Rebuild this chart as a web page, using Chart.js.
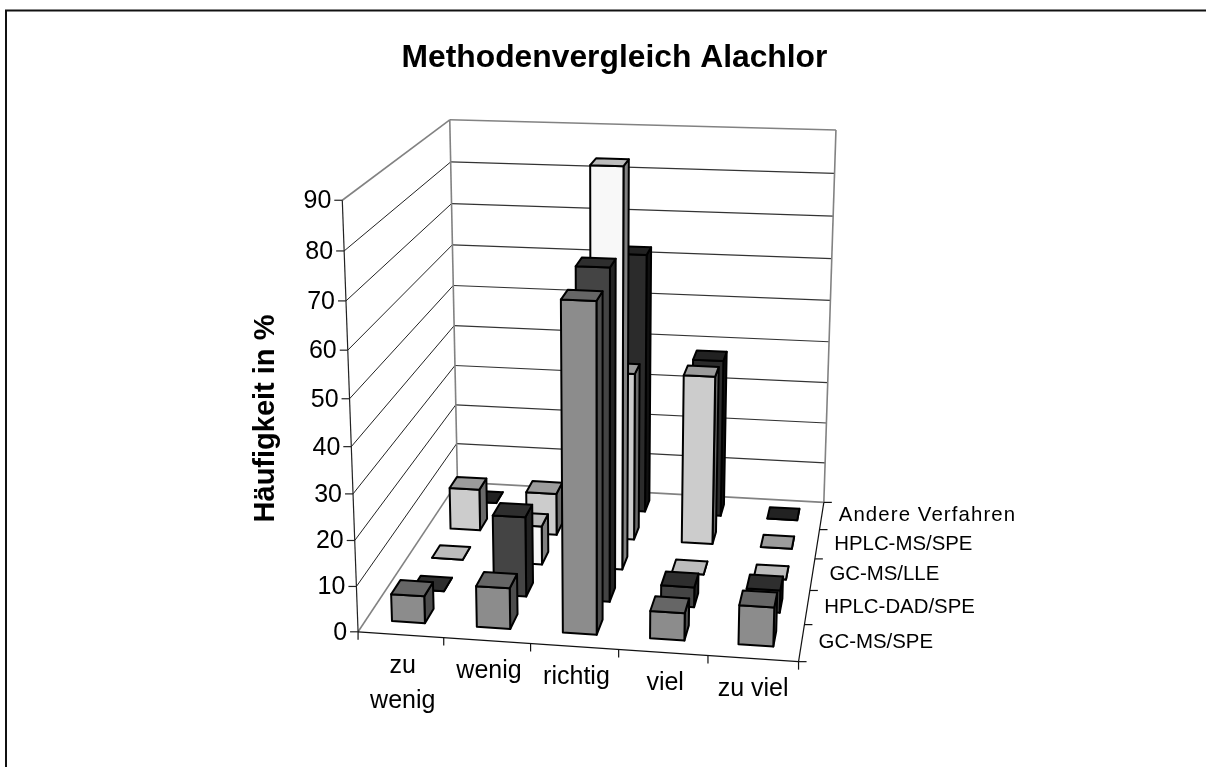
<!DOCTYPE html>
<html><head><meta charset="utf-8">
<style>html,body{margin:0;padding:0;background:#fff}canvas{display:block}</style>
<script src="https://cdn.jsdelivr.net/npm/chart.js@4"></script>
</head><body><canvas id="c" width="1206" height="767"></canvas>
<script>
const categories = ['zu wenig','wenig','richtig','viel','zu viel'];
const seriesNames = ['GC-MS/SPE','HPLC-DAD/SPE','GC-MS/LLE','HPLC-MS/SPE','Andere Verfahren'];
const gcMsSpe   = [6, 9, 70.3, 6, 8.5];
const hplcDad   = [0, 18, 72.8, 4.5, 5];
const gcMsLle   = [0, 9, 90, 0, 0];
const hplcMsSpe = [10, 10, 39.5, 39.7, 0];
const andere    = [0, 0, 62.4, 38, 0];
const yTicks = [0,10,20,30,40,50,60,70,80,90];
const seriesValues = [gcMsSpe, hplcDad, gcMsLle, hplcMsSpe, andere];
const font = 'Liberation Sans, Arial, sans-serif';
const faceColors = [
  {front:'#8c8c8c', top:'#666666', side:'#4d4d4d'},
  {front:'#444444', top:'#2e2e2e', side:'#222222'},
  {front:'#f8f8f8', top:'#bcbcbc', side:'#808080'},
  {front:'#cccccc', top:'#9c9c9c', side:'#6a6a6a'},
  {front:'#2b2b2b', top:'#222222', side:'#111111'}
];
const rowShift = [0.012,0,0,0,0];

// camera: view corners of the plot cube (u, v, w) -> page position
const cubeCorners = [
  [0,0,0,358.3,632],[1,0,0,798.3,661.7],[1,1,0,824,502.3],[0,1,0,457.3,482],
  [0,0,1,342.3,200],[0,1,1,449.7,120],[1,1,1,836,130]
];
function solveCamera(pts){
  const rows=[],rhs=[];
  for(const [u,v,w,x,y] of pts){
    rows.push([u,v,w,1,0,0,0,0,-x*u,-x*v,-x*w]);rhs.push(x);
    rows.push([0,0,0,0,u,v,w,1,-y*u,-y*v,-y*w]);rhs.push(y);
  }
  const n=11,M=[];
  for(let i=0;i<n;i++){const r=new Array(n+1).fill(0);
    for(let k=0;k<rows.length;k++){for(let j=0;j<n;j++)r[j]+=rows[k][i]*rows[k][j];r[n]+=rows[k][i]*rhs[k];}
    M.push(r);}
  for(let i=0;i<n;i++){let p=i;for(let k=i+1;k<n;k++)if(Math.abs(M[k][i])>Math.abs(M[p][i]))p=k;
    [M[i],M[p]]=[M[p],M[i]];
    for(let k=0;k<n;k++){if(k===i)continue;const f=M[k][i]/M[i][i];for(let j=i;j<=n;j++)M[k][j]-=f*M[i][j];}}
  return M.map((r,i)=>r[n]/r[i]);
}
const P=solveCamera(cubeCorners);
function proj(u,v,w){
  const d=P[8]*u+P[9]*v+P[10]*w+1;
  return [(P[0]*u+P[1]*v+P[2]*w+P[3])/d,(P[4]*u+P[5]*v+P[6]*w+P[7])/d];
}
function line(ctx,a,b,color,width){ctx.beginPath();ctx.moveTo(a[0],a[1]);ctx.lineTo(b[0],b[1]);ctx.strokeStyle=color;ctx.lineWidth=width;ctx.stroke();}
function poly(ctx,pts,fill){ctx.beginPath();pts.forEach((p,i)=>i?ctx.lineTo(p[0],p[1]):ctx.moveTo(p[0],p[1]));ctx.closePath();ctx.fillStyle=fill;ctx.fill();ctx.strokeStyle='#000';ctx.lineWidth=2;ctx.lineJoin='round';ctx.stroke();}

const cubePlugin={
  id:'cube',
  beforeDraw(chart){
    const c=chart.ctx;
    c.save();c.fillStyle='#fff';c.fillRect(0,0,1206,767);
    line(c,[6,767],[6,10.5],'#111',2);
    line(c,[5,10.5],[1206,10.5],'#111',2);
    c.restore();
  },
  afterDatasetsDraw(chart){
    const c=chart.ctx,{x:xs,y:ys,z:zs}=chart.scales;
    const U=px=>(px-xs.left)/xs.width, V=px=>(px-zs.left)/zs.width;
    const W=val=>(ys.bottom-ys.getPixelForValue(val))/ys.height;
    c.save();
    // walls
    const grey='#828282';
    yTicks.forEach(t=>{const w=W(t);
      if(t>0&&t<90){line(c,proj(0,0,w),proj(0,1,w),'#222',1);line(c,proj(0,1,w),proj(1,1,w),'#333',1.2);}
    });
    line(c,proj(0,0,1),proj(0,1,1),grey,1.6);
    line(c,proj(0,1,1),proj(1,1,1),grey,1.6);
    line(c,proj(1,1,0),proj(1,1,1),grey,1.6);
    line(c,proj(0,1,0),proj(0,1,1),grey,1.6);
    line(c,proj(0,0,0),proj(0,1,0),grey,1.6);
    line(c,proj(0,1,0),proj(1,1,0),grey,1.6);
    // axes
    line(c,proj(0,0,0),proj(0,0,1),'#222',1.2);
    line(c,proj(0,0,0),proj(1,0,0),'#111',1.2);
    line(c,proj(1,0,0),proj(1,1,0),'#111',1.2);
    yTicks.forEach(t=>{const p=proj(0,0,W(t));line(c,[p[0]-8,p[1]],p,'#222',1.2);});
    for(let i=0;i<=categories.length;i++){const p=proj(i/categories.length,0,0);line(c,p,[p[0],p[1]+8],'#111',1.2);}
    for(let i=0;i<=seriesNames.length;i++){const p=proj(1,i/seriesNames.length,0);line(c,p,[p[0]+8,p[1]],'#111',1.2);}
    // bars, back row first
    const catHalf=xs.width/categories.length*0.195, rowHalf=zs.width/seriesNames.length*0.21;
    for(let s=seriesValues.length-1;s>=0;s--){
      const col=faceColors[s];
      const zc=zs.getPixelForValue(s);
      categories.forEach((_,i)=>{
        const xc=xs.getPixelForValue(i),val=seriesValues[s][i],w=W(val);
        const u0=U(xc-catHalf),u1=U(xc+catHalf),v0=V(zc-rowHalf)+rowShift[s],v1=V(zc+rowHalf)+rowShift[s];
        const a=proj(u0,v0,0),b=proj(u1,v0,0),d=proj(u1,v1,0);
        const a2=proj(u0,v0,w),b2=proj(u1,v0,w),c2=proj(u0,v1,w),d2=proj(u1,v1,w);
        poly(c,[b,d,d2,b2],col.side);
        poly(c,[a,b,b2,a2],col.front);
        poly(c,[a2,b2,d2,c2],col.top);
      });
    }
    // text
    c.fillStyle='#000';c.textBaseline='middle';
    c.font='25px '+font;c.textAlign='right';
    yTicks.forEach(t=>{const p=proj(0,0,W(t));c.fillText(String(t),p[0]-11,p[1]+1);});
    c.font='25px '+font;c.textAlign='center';
    const labelLines=[['zu','wenig'],['wenig'],['richtig'],['viel'],['zu viel']];
    labelLines.forEach((lines,i)=>{const p=proj(U(xs.getPixelForValue(i)),0,0);
      lines.forEach((l,k)=>c.fillText(l,p[0]+(i<4?2:0),p[1]+31+k*35));});
    c.font='20.4px '+font;c.textAlign='left';
    seriesNames.forEach((n,s)=>{const p=proj(1,V(zs.getPixelForValue(s)),0);
      c.letterSpacing=n.length>12?'1.1px':'0px';
      c.fillText(n,p[0]+17,p[1]);});
    c.letterSpacing='0px';
    c.save();c.translate(266,418.5);c.rotate(-Math.PI/2);c.textAlign='center';c.font='bold 29px '+font;c.fillText('Häufigkeit in %',0,0);c.restore();
    c.restore();
  }
};
new Chart(document.getElementById('c'),{
  type:'bar',
  data:{labels:categories,datasets:seriesNames.map((n,s)=>({label:n,data:seriesValues[s],backgroundColor:'rgba(0,0,0,0)',borderWidth:0}))},
  options:{
    responsive:false,animation:false,devicePixelRatio:1,
    layout:{padding:{left:23,right:0,top:0,bottom:0}},
    plugins:{legend:{display:false},tooltip:{enabled:false},
      title:{display:true,text:'Methodenvergleich Alachlor',color:'#000',font:{family:font,size:31.8,weight:'bold'},padding:{top:39.5,bottom:10}}},
    scales:{
      x:{type:'category',labels:categories,offset:true,display:false},
      z:{type:'category',axis:'x',labels:seriesNames,offset:true,display:false},
      y:{type:'linear',min:0,max:90,display:false}
    }
  },
  plugins:[cubePlugin]
});
</script></body></html>
